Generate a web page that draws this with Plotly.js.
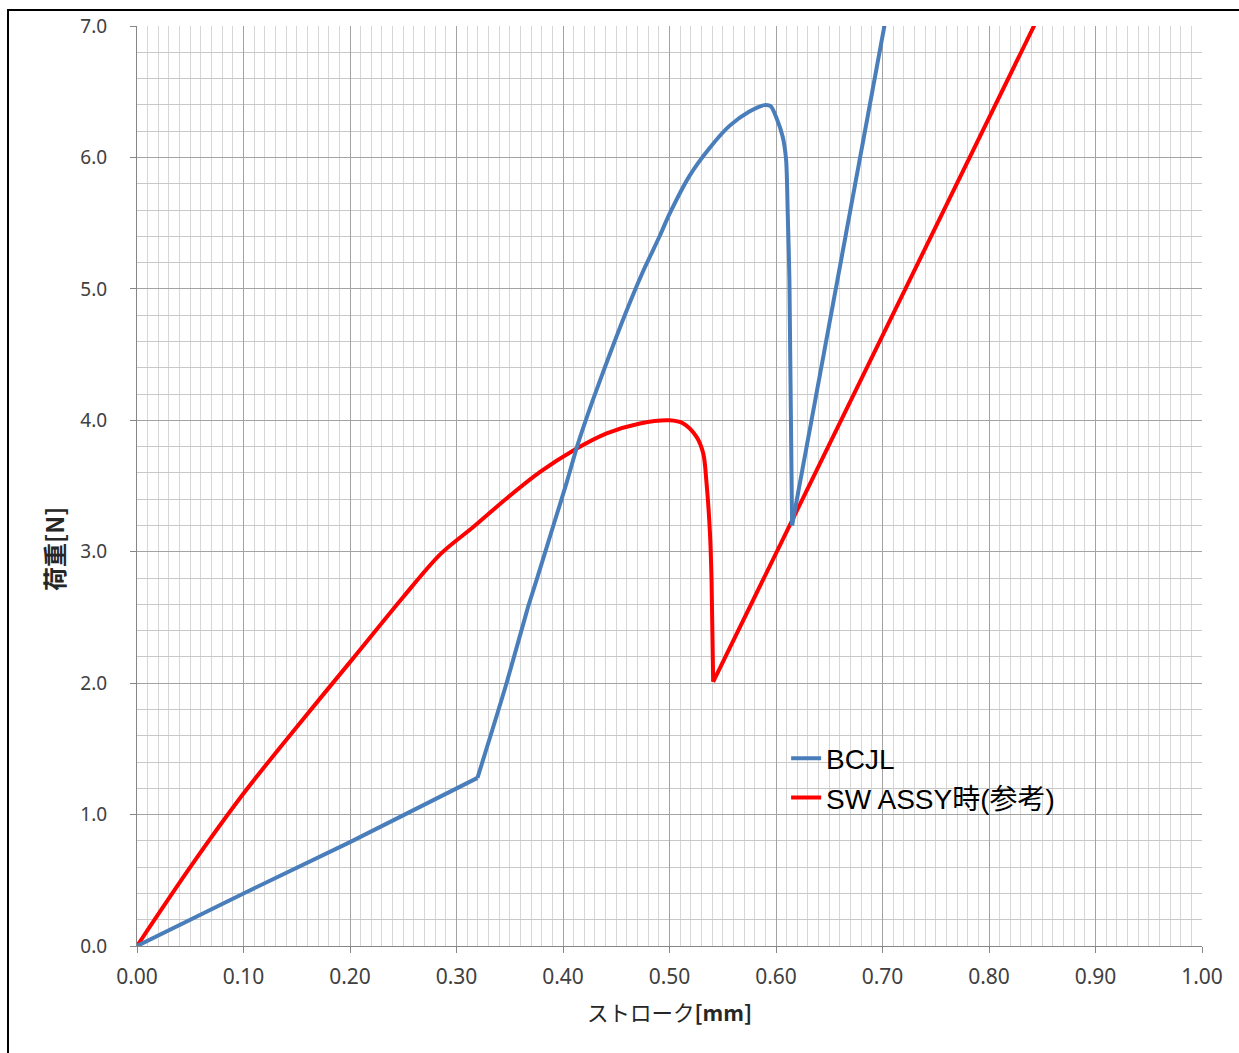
<!DOCTYPE html>
<html>
<head>
<meta charset="utf-8">
<script src="https://cdn.plot.ly/plotly-3.0.1.min.js"></script>
<style>
  html, body { margin: 0; padding: 0; background: #fff; overflow: hidden; }
  #chart { width: 1239px; height: 1053px; position: relative; }
  #frame { position: absolute; left: 7px; top: 9px; width: 1400px; height: 1200px; border: 2px solid #000; pointer-events: none; }
</style>
</head>
<body>
<div id="chart"></div>
<div id="frame"></div>
<script>
// BCJL series
const bcjlX = [0, 0.10, 0.20, 0.3197, 0.3469, 0.3672, 0.375, 0.3906, 0.4032, 0.414, 0.428, 0.4438, 0.4595, 0.475, 0.4907, 0.500, 0.5188, 0.5375, 0.5563, 0.575, 0.589, 0.595, 0.600, 0.6063, 0.6095, 0.611, 0.6126, 0.6151, 0.6407, 0.7017, 0.715];
const bcjlY = [0, 0.40, 0.79, 1.279, 1.997, 2.58, 2.78, 3.19, 3.52, 3.82, 4.153, 4.50, 4.83, 5.13, 5.40, 5.57, 5.86, 6.07, 6.24, 6.35, 6.398, 6.39, 6.31, 6.157, 5.98, 5.576, 5.066, 3.20, 4.32, 7.0, 7.58];
// SW ASSY series
const swX = [0, 0.05, 0.10, 0.15, 0.20, 0.25, 0.2847, 0.316, 0.347, 0.3785, 0.4097, 0.441, 0.4723, 0.500, 0.5129, 0.5254, 0.5317, 0.5348, 0.538, 0.5395, 0.541, 0.6151, 0.87];
const swY = [0, 0.60, 1.16, 1.667, 2.16, 2.656, 2.98, 3.19, 3.405, 3.607, 3.77, 3.90, 3.976, 4.00, 3.976, 3.874, 3.747, 3.52, 3.14, 2.78, 2.01, 3.24, 7.46];

const seriesNames = ['BCJL', 'SW ASSY時(参考)'];
const xTickVals = [0, 0.1, 0.2, 0.3, 0.4, 0.5, 0.6, 0.7, 0.8, 0.9, 1.0];
const xTickText = ['0.00', '0.10', '0.20', '0.30', '0.40', '0.50', '0.60', '0.70', '0.80', '0.90', '1.00'];
const yTickVals = [0, 1, 2, 3, 4, 5, 6, 7];
const yTickText = ['0.0', '1.0', '2.0', '3.0', '4.0', '5.0', '6.0', '7.0'];

// sharp corners in the curves (indices into the arrays above)
const bcjlKinks = [3, 27];
const swKinks = [20];

const BLUE = '#4a7ebb', RED = '#ff0000';

function seg(xs, ys, a, b, color, shape, smoothing, name, show) {
  return {
    x: xs.slice(a, b + 1), y: ys.slice(a, b + 1), name: name, showlegend: show,
    type: 'scatter', mode: 'lines',
    line: { color: color, width: 4, shape: shape, smoothing: smoothing }
  };
}

const nB = bcjlX.length - 1, nS = swX.length - 1;
const traces = [
  seg(swX, swY, 0, swKinks[0], RED, 'spline', 0.9, seriesNames[1], true),
  seg(swX, swY, swKinks[0], nS, RED, 'linear', 1, seriesNames[1], false),
  seg(bcjlX, bcjlY, 0, bcjlKinks[0], BLUE, 'linear', 1, seriesNames[0], false),
  seg(bcjlX, bcjlY, bcjlKinks[0], bcjlKinks[1], BLUE, 'spline', 0.7, seriesNames[0], true),
  seg(bcjlX, bcjlY, bcjlKinks[1], nB, BLUE, 'linear', 1, seriesNames[0], false)
];

const tickColor = '#404040';
const layout = {
  width: 1239, height: 1053,
  margin: { l: 137, r: 37, t: 26, b: 107 },
  paper_bgcolor: '#ffffff', plot_bgcolor: '#ffffff',
  showlegend: true,
  legend: {
    x: 0.6095, y: 0.231, xanchor: 'left', yanchor: 'top',
    traceorder: 'reversed',
    bgcolor: 'rgba(0,0,0,0)',
    font: { family: 'Liberation Sans, Arial, Noto Sans CJK JP, sans-serif', size: 28, color: '#000' },
    tracegroupgap: 0
  },
  xaxis: {
    range: [0, 1], autorange: false,
    tickmode: 'array', tickvals: xTickVals, ticktext: xTickText,
    tickfont: { family: 'Noto Sans, DejaVu Sans, sans-serif', size: 21, color: tickColor },
    ticklabelstandoff: 6,
    ticks: 'outside', ticklen: 6, tickcolor: '#868686', tickwidth: 1,
    showline: true, linecolor: '#868686', linewidth: 1,
    showgrid: true, gridcolor: '#a3a3a3', gridwidth: 1,
    minor: { dtick: 0.01, tick0: 0, showgrid: true, gridcolor: '#d6d6d6', gridwidth: 1, ticks: '' },
    zeroline: false,
    title: { text: 'ストローク<b>[mm]</b>', font: { family: 'Noto Sans CJK JP, Noto Sans, sans-serif', size: 21.5, color: '#262626' }, standoff: 16 },
    automargin: false
  },
  yaxis: {
    range: [0, 7], autorange: false,
    tickmode: 'array', tickvals: yTickVals, ticktext: yTickText,
    tickfont: { family: 'Noto Sans, DejaVu Sans, sans-serif', size: 19, color: tickColor },
    ticklabelstandoff: 19,
    ticks: 'outside', ticklen: 6, tickcolor: '#868686', tickwidth: 1,
    showline: true, linecolor: '#868686', linewidth: 1,
    showgrid: true, gridcolor: '#a3a3a3', gridwidth: 1,
    minor: { dtick: 0.2, tick0: 0, showgrid: true, gridcolor: '#c8c8c8', gridwidth: 1, ticks: '' },
    zeroline: false,
    automargin: false
  },
  annotations: [{
    text: '<b>荷重[N]</b>', textangle: -90,
    xref: 'paper', yref: 'paper', x: -0.079, y: 0.4315,
    xanchor: 'center', yanchor: 'middle', showarrow: false,
    font: { family: 'Noto Sans CJK JP, Noto Sans, sans-serif', size: 24, color: '#262626' }
  }]
};

Plotly.newPlot('chart', traces, layout, { displayModeBar: false, staticPlot: true });
</script>
</body>
</html>
